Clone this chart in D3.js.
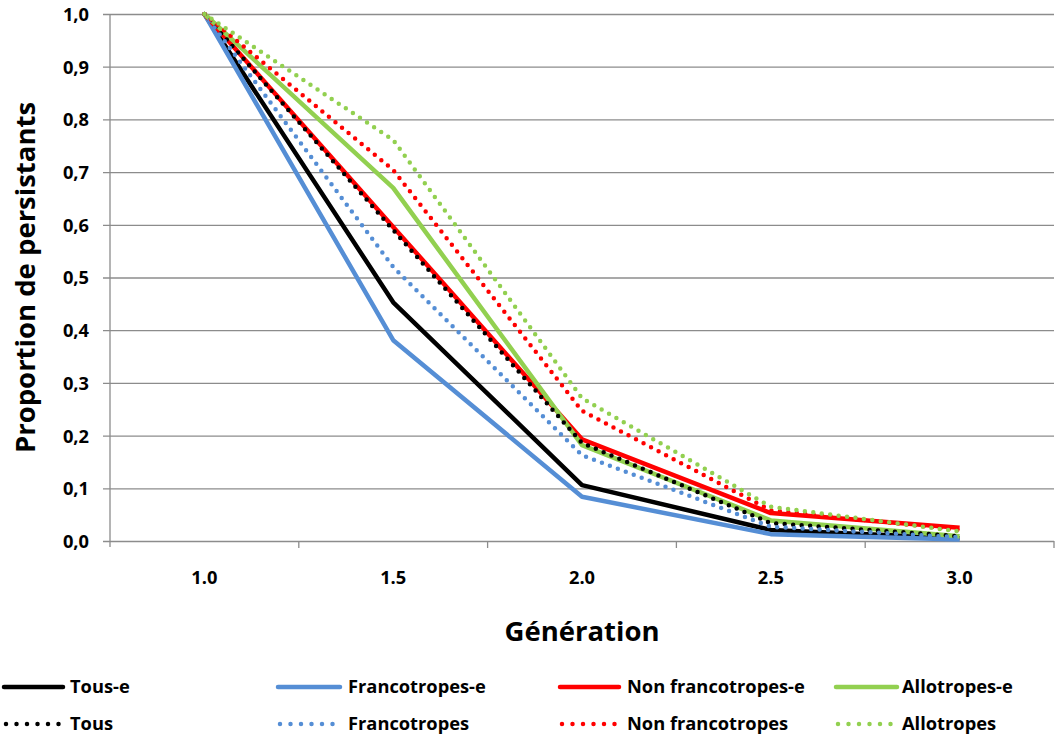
<!DOCTYPE html>
<html>
<head>
<meta charset="utf-8">
<script src="https://cdn.jsdelivr.net/npm/d3@7"></script>
<style>
  body { margin: 0; background: #fff; }
  svg text { font-family: "Open Sans", Lato, sans-serif; font-weight: bold; fill: #000; }
</style>
</head>
<body>
<div id="chart"></div>
<script>
const generations = ["1.0", "1.5", "2.0", "2.5", "3.0"];
const yTicks = [0, 0.1, 0.2, 0.3, 0.4, 0.5, 0.6, 0.7, 0.8, 0.9, 1.0];

const tousE = [1.0, 0.453, 0.106, 0.021, 0.005];
const francotropesE = [1.0, 0.381, 0.084, 0.013, 0.003];
const nonFrancotropesE = [1.0, 0.596, 0.193, 0.053, 0.025];
const allotropesE = [1.0, 0.670, 0.182, 0.039, 0.009];
const tous = [1.0, 0.59, 0.186, 0.034, 0.009];
const francotropes = [1.0, 0.52, 0.163, 0.027, 0.007];
const nonFrancotropes = [1.0, 0.704, 0.247, 0.058, 0.021];
const allotropes = [1.0, 0.761, 0.271, 0.065, 0.018];

const seriesNames = ["Tous-e", "Francotropes-e", "Non francotropes-e", "Allotropes-e",
  "Tous", "Francotropes", "Non francotropes", "Allotropes"];
const seriesValues = [tousE, francotropesE, nonFrancotropesE, allotropesE,
  tous, francotropes, nonFrancotropes, allotropes];
const seriesColors = ["#000000", "#558ed5", "#ff0000", "#92d050",
  "#000000", "#558ed5", "#ff0000", "#92d050"];
const seriesDotted = [false, false, false, false, true, true, true, true];

const WIDTH = 1055, HEIGHT = 738;
const PLOT = { LEFT: 110, RIGHT: 1054, TOP: 14, BOTTOM: 541 };
const GRID = "#8c8c8c";
const LABEL_SIZE = "18.3px";
const TITLE_SIZE = "27.5px";

const svg = d3.select("#chart").append("svg")
  .attr("width", WIDTH).attr("height", HEIGHT);

const x = d3.scaleBand(generations, [PLOT.LEFT, PLOT.RIGHT]);
const xc = (d) => x(d) + x.bandwidth() / 2;
const y = d3.scaleLinear([0, 1], [PLOT.BOTTOM, PLOT.TOP]);

const fr = d3.formatLocale({ decimal: ",", thousands: " ", grouping: [3], currency: ["", "€"] });
const fmt = fr.format(".1f");

// gridlines + y axis
const yAxis = d3.axisLeft(y).tickValues(yTicks).tickFormat(fmt)
  .tickSize(-(PLOT.RIGHT - PLOT.LEFT)).tickPadding(21);
const gy = svg.append("g").attr("transform", `translate(${PLOT.LEFT},0)`).call(yAxis);
gy.select(".domain").remove();
gy.selectAll(".tick line").attr("stroke", GRID).attr("stroke-width", 1.3)
  .attr("x2", PLOT.RIGHT - PLOT.LEFT).attr("x1", -7);
gy.selectAll(".tick text").style("font-size", LABEL_SIZE).attr("dy", "0.35em");

svg.append("line")
  .attr("x1", PLOT.LEFT).attr("x2", PLOT.LEFT)
  .attr("y1", PLOT.TOP).attr("y2", PLOT.BOTTOM + 6)
  .attr("stroke", GRID).attr("stroke-width", 1.3);

// x axis: tick marks between categories
const edges = generations.map((g) => x(g)).concat([PLOT.RIGHT]);
svg.append("g").selectAll("line").data(edges.slice(1)).join("line")
  .attr("x1", (d) => d).attr("x2", (d) => d)
  .attr("y1", PLOT.BOTTOM).attr("y2", PLOT.BOTTOM + 7)
  .attr("stroke", GRID).attr("stroke-width", 1.3);

svg.append("g").selectAll("text").data(generations).join("text")
  .attr("x", xc).attr("y", 578)
  .attr("dy", "0.35em")
  .style("text-anchor", "middle").style("font-size", LABEL_SIZE)
  .text((d) => d);

// axis titles
svg.append("text")
  .attr("x", xc("2.0")).attr("y", 631).attr("dy", "0.35em")
  .style("text-anchor", "middle").style("font-size", TITLE_SIZE)
  .text("Génération");

svg.append("text")
  .attr("transform", `translate(25, ${(PLOT.TOP + PLOT.BOTTOM) / 2}) rotate(-90)`)
  .attr("dy", "0.35em")
  .style("text-anchor", "middle").style("font-size", TITLE_SIZE)
  .text("Proportion de persistants");

// series
const line = d3.line().x((d, i) => xc(generations[i])).y((d) => y(d));
const order = [0, 1, 2, 3, 4, 5, 6, 7];
svg.append("g").selectAll("path").data(order).join("path")
  .attr("d", (i) => line(seriesValues[i]))
  .attr("fill", "none")
  .attr("stroke", (i) => seriesColors[i])
  .attr("stroke-width", 4.5)
  .attr("stroke-linecap", (i) => (seriesDotted[i] ? "round" : "butt"))
  .attr("stroke-linejoin", "round")
  .attr("stroke-dasharray", (i) => (seriesDotted[i] ? "0 8.5" : null));

// legend
const legendCols = [{ x1: 4, x2: 63, tx: 70 }, { x1: 278, x2: 340, tx: 348 },
  { x1: 560, x2: 619, tx: 627 }, { x1: 836, x2: 897, tx: 902 }];
const legendRows = [687, 724];
const legend = svg.append("g").selectAll("g").data(order).join("g")
  .attr("transform", (i) => `translate(0, ${legendRows[Math.floor(i / 4)]})`);
legend.append("line")
  .attr("x1", (i) => legendCols[i % 4].x1 + (seriesDotted[i] ? 2 : 0))
  .attr("x2", (i) => legendCols[i % 4].x2)
  .attr("stroke", (i) => seriesColors[i])
  .attr("stroke-width", 4.5)
  .attr("stroke-linecap", "round")
  .attr("stroke-dasharray", (i) => (seriesDotted[i] ? "0 10.5" : null));
legend.append("text")
  .attr("x", (i) => legendCols[i % 4].tx)
  .attr("dy", "0.35em")
  .style("font-size", LABEL_SIZE)
  .text((i) => seriesNames[i]);
</script>
</body>
</html>
